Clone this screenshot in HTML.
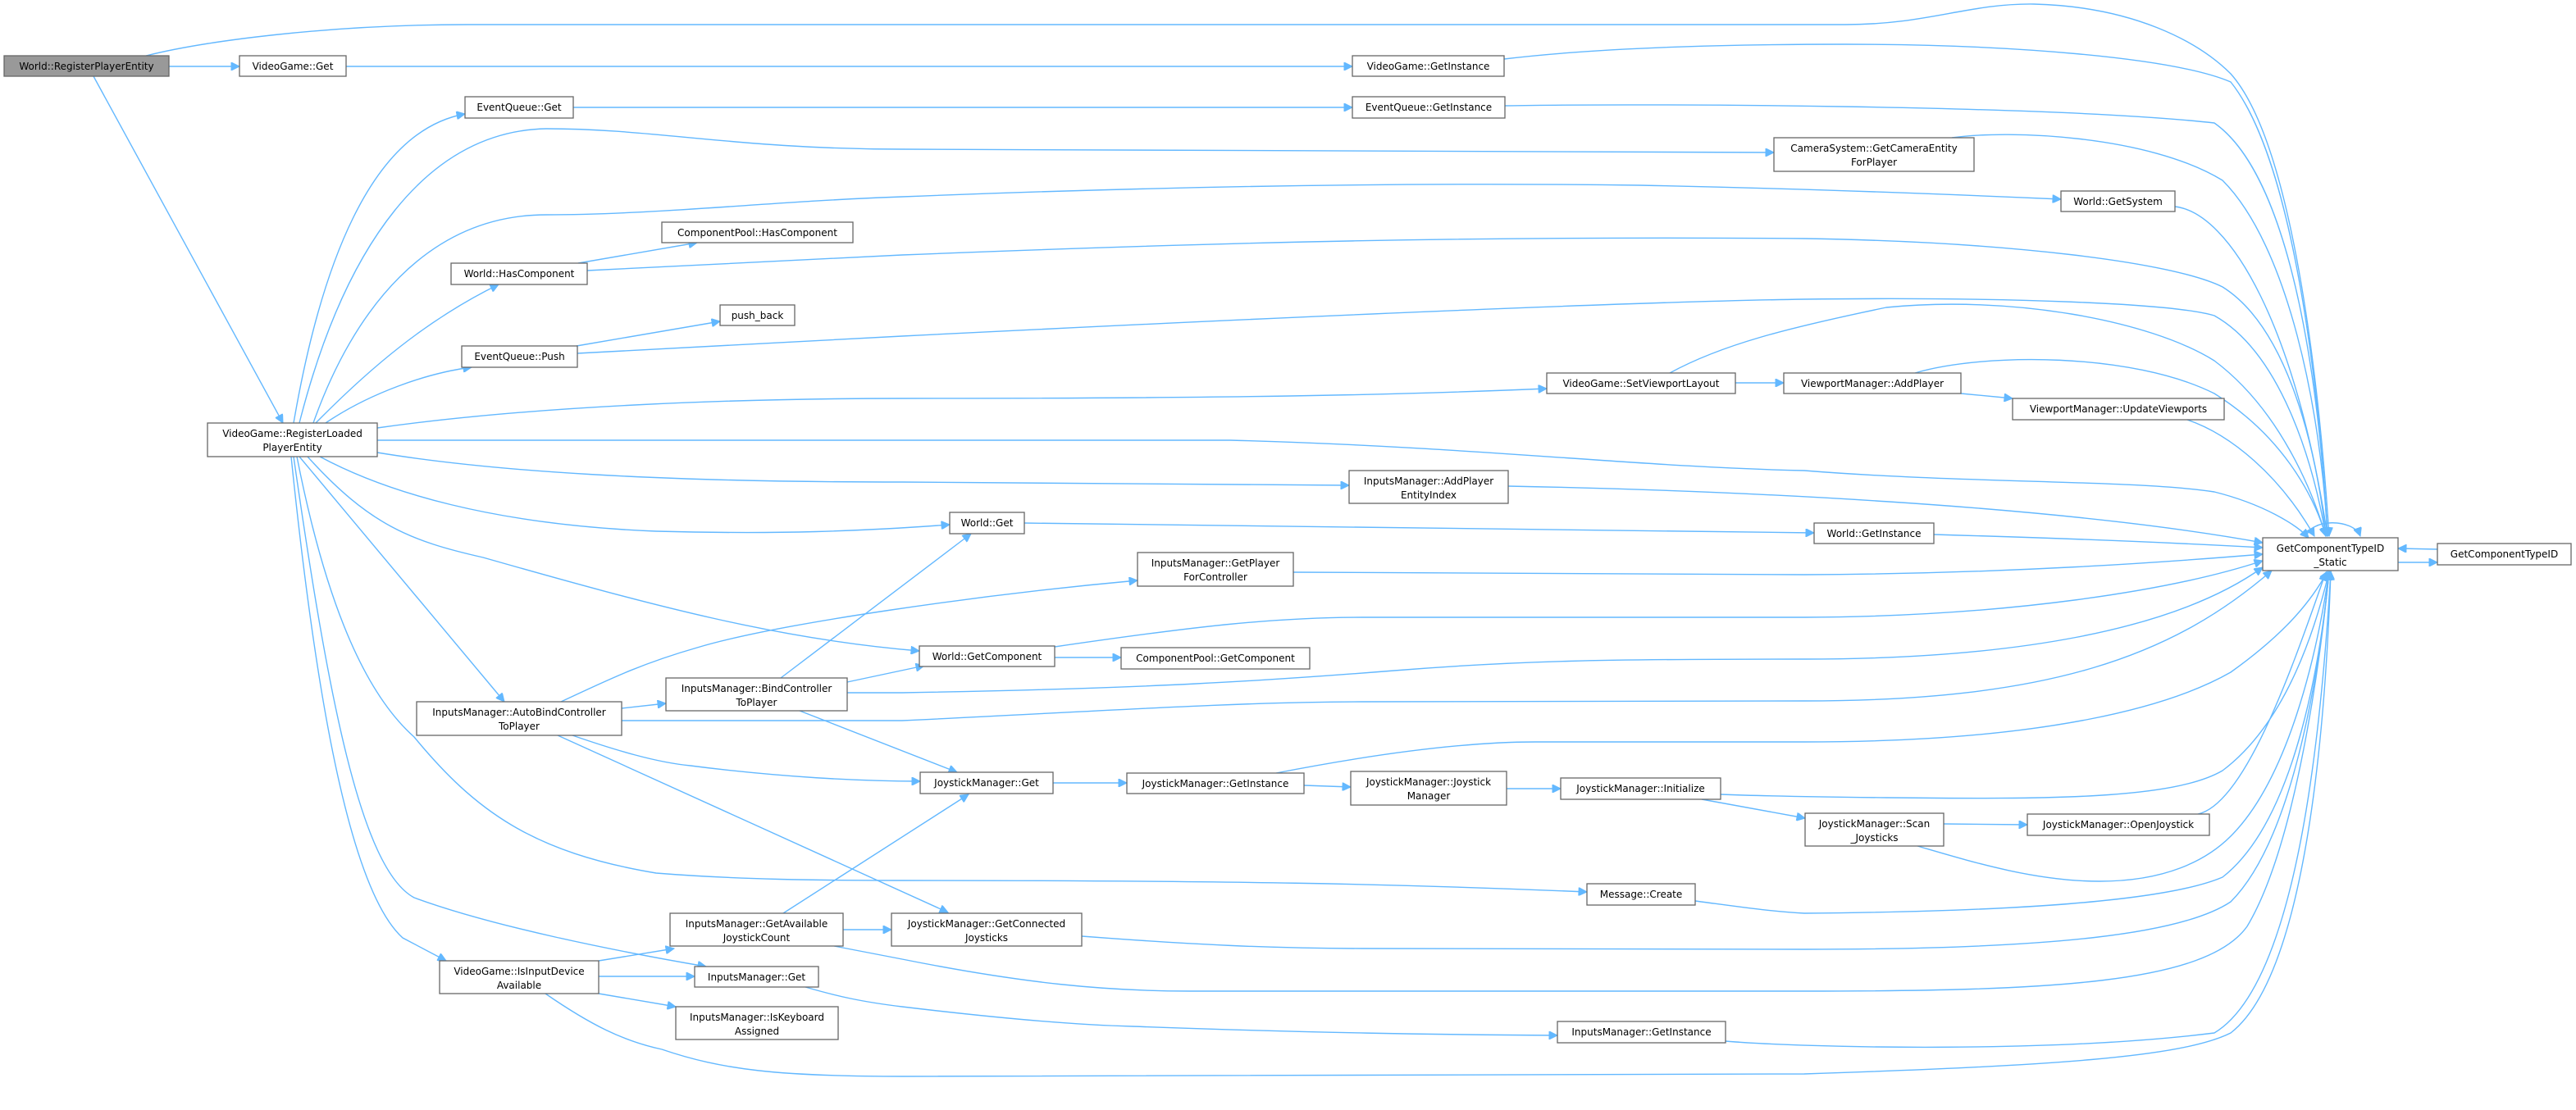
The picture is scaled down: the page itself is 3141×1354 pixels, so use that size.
<!DOCTYPE html>
<html><head><meta charset="utf-8">
<style>
html,body{margin:0;padding:0;background:#fff;}
svg{display:block;}
text{font-family:"DejaVu Sans","Liberation Sans",sans-serif;font-size:12px;fill:#000;}
.n{fill:#fff;stroke:#666;stroke-width:1.3;}
.e{fill:none;stroke:#63b8ff;stroke-width:1.4;}
</style></head><body>
<svg width="3141" height="1354" viewBox="0 0 3141 1354" xmlns="http://www.w3.org/2000/svg">
<defs>
<marker id="a" viewBox="0 0 10 10" refX="10" refY="5" markerWidth="14" markerHeight="10" markerUnits="userSpaceOnUse" orient="auto">
<path d="M0,0 L10,5 L0,10 z" fill="#63b8ff" stroke="#63b8ff"/>
</marker>
</defs>
<g class="e" marker-end="url(#a)">
<!-- RPE -->
<path d="M178,68 C250,50 400,30 570,30 L2250,30 C2350,30 2400,4 2480,5 C2600,8 2680,50 2720,90 C2800,180 2830,500 2840,654"/>
<path d="M206,81 L292,81"/>
<path d="M114,93 L345,516"/>
<path d="M422,81 L1649,81"/>
<path d="M1834,72 C1950,58 2100,54 2250,54 C2450,54 2650,70 2720,100 C2800,200 2830,500 2838,654"/>
<path d="M699,131 L1649,131"/>
<path d="M1835,129 C2000,126 2500,128 2700,150 C2800,220 2830,500 2838,654"/>
<path d="M2380,168 C2450,158 2620,165 2710,220 C2790,300 2830,500 2838,654"/>
<path d="M2652,252 C2720,260 2800,400 2838,654"/>
<path d="M2335,455 C2420,430 2600,430 2700,480 C2780,530 2820,600 2836,654"/>
<path d="M2391,480 L2454,486"/>
<path d="M2667,512 C2720,530 2780,580 2822,654"/>
<path d="M2116,467 L2175,467"/>
<path d="M2036,455 C2100,420 2180,400 2300,375 C2450,360 2620,390 2700,440 C2780,500 2820,600 2836,654"/>
<path d="M2358,652 C2500,656 2650,662 2759,668"/>
<path d="M1249,638 L2212,650"/>
<path d="M1839,593 C2100,598 2500,615 2759,662"/>
<path d="M460,552 C600,575 800,588 1100,588 L1645,592"/>
<path d="M460,522 C650,495 900,486 1100,486 C1500,486 1700,482 1886,474"/>
<path d="M460,537 L1500,537 C1800,545 2000,570 2200,574 C2400,590 2600,585 2700,600 C2760,615 2800,640 2815,656"/>
<path d="M390,557 C470,600 600,640 800,648 C950,652 1050,648 1158,640"/>
<path d="M375,557 C450,640 500,660 589,680 C800,740 950,780 1121,794"/>
<path d="M365,557 L615,856"/>
<path d="M362,557 C400,750 450,850 505,899 C580,990 650,1040 800,1065 C900,1073 1000,1074 1100,1074 C1500,1074 1700,1078 1935,1088"/>
<path d="M358,557 C400,850 440,1060 505,1095 C600,1130 750,1160 861,1179"/>
<path d="M355,557 C380,800 420,1080 491,1144 L544,1172"/>
<path d="M358,516 C390,330 450,160 567,139"/>
<path d="M365,516 C420,300 520,160 666,157 C800,157 900,182 1100,182 L2163,186"/>
<path d="M382,516 C430,380 520,262 666,262 C800,262 950,245 1100,240 C1400,228 1700,222 2000,226 C2200,230 2400,238 2513,243"/>
<path d="M385,516 C450,450 520,390 608,347"/>
<path d="M705,321 L850,296"/>
<path d="M716,330 L1100,311 C1500,295 1800,288 2200,291 C2450,295 2650,320 2710,350 C2790,400 2825,550 2836,654"/>
<path d="M397,516 C450,480 520,455 575,448"/>
<path d="M703,422 L878,392"/>
<path d="M704,431 L1100,410 C1600,385 2000,368 2200,365 C2450,362 2650,370 2700,385 C2780,430 2820,560 2836,654"/>
<!-- AutoBind -->
<path d="M684,856 C740,830 780,810 850,790 C950,760 1200,725 1387,708"/>
<path d="M758,864 L812,858"/>
<path d="M758,879 L1100,879 C1300,870 1500,856 1661,856 L2200,855 C2500,855 2650,800 2770,696"/>
<path d="M698,897 C750,915 800,930 842,934 C950,948 1050,953 1122,953"/>
<path d="M680,897 L1156,1113"/>
<!-- Bind -->
<path d="M952,827 L1184,651"/>
<path d="M1033,832 L1127,812"/>
<path d="M975,867 L1167,942"/>
<path d="M1033,845 L1100,845 C1400,840 1550,830 1700,818 C1850,806 1950,804 2200,804 C2450,804 2650,770 2759,692"/>
<path d="M1286,802 L1367,802"/>
<path d="M1286,789 C1450,765 1550,753 1661,753 L2200,753 C2450,752 2650,720 2759,684"/>
<path d="M1577,698 C1800,700 2000,701 2200,701 C2450,700 2650,685 2759,676"/>
<!-- Available etc -->
<path d="M955,1114 L1181,969"/>
<path d="M1028,1134 L1087,1134"/>
<path d="M1017,1154 L1100,1170 C1250,1200 1350,1209 1451,1209 L2200,1209 C2500,1209 2690,1200 2740,1130 C2800,1030 2830,800 2840,697"/>
<path d="M730,1172 L822,1157"/>
<path d="M730,1191 L847,1191"/>
<path d="M730,1212 L824,1228"/>
<path d="M665,1212 C720,1250 760,1270 807,1280 C880,1305 950,1313 1100,1313 L2200,1310 C2500,1300 2660,1290 2720,1260 C2810,1190 2835,900 2842,697"/>
<path d="M982,1204 C1020,1215 1050,1222 1100,1228 C1200,1240 1300,1250 1381,1252 C1600,1260 1750,1262 1899,1263"/>
<path d="M2104,1270 C2200,1278 2500,1285 2700,1260 C2800,1200 2830,900 2842,697"/>
<path d="M1284,955 L1374,955"/>
<path d="M1590,958 L1647,960"/>
<path d="M1556,943 C1700,915 1800,905 1872,905 L2200,905 C2500,905 2650,860 2720,820 C2790,770 2820,730 2838,697"/>
<path d="M1837,962 L1903,962"/>
<path d="M2098,969 C2150,971 2200,972 2300,973 C2500,975 2650,975 2710,940 C2790,880 2825,760 2840,697"/>
<path d="M2075,975 L2201,998"/>
<path d="M2370,1005 L2472,1006"/>
<path d="M2338,1032 C2400,1050 2480,1075 2560,1075 C2640,1075 2690,1050 2720,1020 C2790,950 2825,800 2840,697"/>
<path d="M2680,993 C2740,980 2800,800 2836,698"/>
<path d="M2067,1099 C2120,1106 2160,1112 2200,1114 C2450,1112 2640,1100 2710,1070 C2800,1000 2830,800 2840,697"/>
<path d="M1319,1142 C1450,1152 1550,1157 1661,1157 L2200,1158 C2500,1158 2660,1140 2720,1100 C2800,1020 2830,800 2840,697"/>
<!-- GCT -->
<path d="M2812,656 C2815,632 2870,632 2878,654"/>
<path d="M2924,686 L2972,686"/>
<path d="M2972,670 L2924,669"/>
</g>
<g>
<rect class="n" x="5" y="68" width="201" height="25" style="fill:#999"/>
<text x="105.5" y="85" text-anchor="middle">World::RegisterPlayerEntity</text>
<rect class="n" x="292" y="68" width="130" height="25"/><text x="357" y="85" text-anchor="middle">VideoGame::Get</text>
<rect class="n" x="567" y="118" width="132" height="26"/><text x="633" y="135" text-anchor="middle">EventQueue::Get</text>
<rect class="n" x="807" y="271" width="233" height="25"/><text x="923.5" y="288" text-anchor="middle">ComponentPool::HasComponent</text>
<rect class="n" x="550" y="321" width="166" height="26"/><text x="633" y="338" text-anchor="middle">World::HasComponent</text>
<rect class="n" x="878" y="372" width="91" height="25"/><text x="923.5" y="389" text-anchor="middle">push_back</text>
<rect class="n" x="563" y="422" width="141" height="26"/><text x="633.5" y="439" text-anchor="middle">EventQueue::Push</text>
<rect class="n" x="253" y="516" width="207" height="41"/><text x="356.5" y="533" text-anchor="middle">VideoGame::RegisterLoaded</text><text x="356.5" y="550" text-anchor="middle">PlayerEntity</text>
<rect class="n" x="508" y="856" width="250" height="41"/><text x="633" y="873" text-anchor="middle">InputsManager::AutoBindController</text><text x="633" y="890" text-anchor="middle">ToPlayer</text>
<rect class="n" x="812" y="827" width="221" height="40"/><text x="922.5" y="844" text-anchor="middle">InputsManager::BindController</text><text x="922.5" y="861" text-anchor="middle">ToPlayer</text>
<rect class="n" x="817" y="1114" width="211" height="40"/><text x="922.5" y="1131" text-anchor="middle">InputsManager::GetAvailable</text><text x="922.5" y="1148" text-anchor="middle">JoystickCount</text>
<rect class="n" x="536" y="1172" width="194" height="40"/><text x="633" y="1189" text-anchor="middle">VideoGame::IsInputDevice</text><text x="633" y="1206" text-anchor="middle">Available</text>
<rect class="n" x="847" y="1179" width="151" height="25"/><text x="922.5" y="1196" text-anchor="middle">InputsManager::Get</text>
<rect class="n" x="824" y="1228" width="198" height="40"/><text x="923" y="1245" text-anchor="middle">InputsManager::IsKeyboard</text><text x="923" y="1262" text-anchor="middle">Assigned</text>
<rect class="n" x="1649" y="68" width="185" height="25"/><text x="1741.5" y="85" text-anchor="middle">VideoGame::GetInstance</text>
<rect class="n" x="1649" y="118" width="186" height="26"/><text x="1742" y="135" text-anchor="middle">EventQueue::GetInstance</text>
<rect class="n" x="2163" y="168" width="244" height="41"/><text x="2285" y="185" text-anchor="middle">CameraSystem::GetCameraEntity</text><text x="2285" y="202" text-anchor="middle">ForPlayer</text>
<rect class="n" x="1886" y="455" width="230" height="25"/><text x="2001" y="472" text-anchor="middle">VideoGame::SetViewportLayout</text>
<rect class="n" x="1645" y="574" width="194" height="40"/><text x="1742" y="591" text-anchor="middle">InputsManager::AddPlayer</text><text x="1742" y="608" text-anchor="middle">EntityIndex</text>
<rect class="n" x="1158" y="625" width="91" height="26"/><text x="1203.5" y="642" text-anchor="middle">World::Get</text>
<rect class="n" x="1387" y="674" width="190" height="41"/><text x="1482" y="691" text-anchor="middle">InputsManager::GetPlayer</text><text x="1482" y="708" text-anchor="middle">ForController</text>
<rect class="n" x="1121" y="788" width="165" height="25"/><text x="1203.5" y="805" text-anchor="middle">World::GetComponent</text>
<rect class="n" x="1367" y="790" width="230" height="26"/><text x="1482" y="807" text-anchor="middle">ComponentPool::GetComponent</text>
<rect class="n" x="1122" y="942" width="162" height="26"/><text x="1203" y="959" text-anchor="middle">JoystickManager::Get</text>
<rect class="n" x="1374" y="943" width="216" height="25"/><text x="1482" y="960" text-anchor="middle">JoystickManager::GetInstance</text>
<rect class="n" x="1647" y="941" width="190" height="41"/><text x="1742" y="958" text-anchor="middle">JoystickManager::Joystick</text><text x="1742" y="975" text-anchor="middle">Manager</text>
<rect class="n" x="1903" y="949" width="195" height="26"/><text x="2000.5" y="966" text-anchor="middle">JoystickManager::Initialize</text>
<rect class="n" x="1935" y="1078" width="132" height="26"/><text x="2001" y="1095" text-anchor="middle">Message::Create</text>
<rect class="n" x="1087" y="1114" width="232" height="40"/><text x="1203" y="1131" text-anchor="middle">JoystickManager::GetConnected</text><text x="1203" y="1148" text-anchor="middle">Joysticks</text>
<rect class="n" x="1899" y="1246" width="205" height="26"/><text x="2001.5" y="1263" text-anchor="middle">InputsManager::GetInstance</text>
<rect class="n" x="2513" y="233" width="139" height="25"/><text x="2582.5" y="250" text-anchor="middle">World::GetSystem</text>
<rect class="n" x="2175" y="455" width="216" height="25"/><text x="2283" y="472" text-anchor="middle">ViewportManager::AddPlayer</text>
<rect class="n" x="2454" y="486" width="258" height="26"/><text x="2583" y="503" text-anchor="middle">ViewportManager::UpdateViewports</text>
<rect class="n" x="2212" y="638" width="146" height="25"/><text x="2285" y="655" text-anchor="middle">World::GetInstance</text>
<rect class="n" x="2759" y="656" width="165" height="40"/><text x="2841.5" y="673" text-anchor="middle">GetComponentTypeID</text><text x="2841.5" y="690" text-anchor="middle">_Static</text>
<rect class="n" x="2972" y="663" width="163" height="26"/><text x="3053.5" y="680" text-anchor="middle">GetComponentTypeID</text>
<rect class="n" x="2201" y="992" width="169" height="40"/><text x="2285.5" y="1009" text-anchor="middle">JoystickManager::Scan</text><text x="2285.5" y="1026" text-anchor="middle">_Joysticks</text>
<rect class="n" x="2472" y="993" width="222" height="26"/><text x="2583" y="1010" text-anchor="middle">JoystickManager::OpenJoystick</text>
</g>
</svg>
</body></html>
